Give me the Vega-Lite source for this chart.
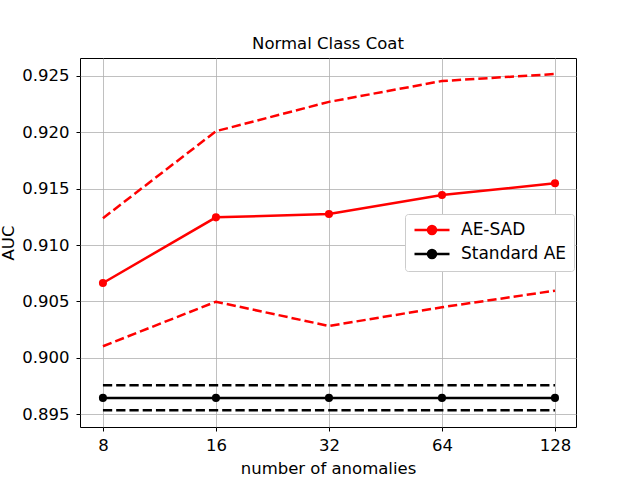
{
  "$schema": "https://vega.github.io/schema/vega-lite/v6.json",
  "width": 496,
  "height": 369,
  "autosize": {"type": "none"},
  "padding": {"left": 80, "top": 58, "right": 64, "bottom": 53},
  "background": "white",
  "config": {
    "font": "DejaVu Sans",
    "view": {"stroke": "black", "strokeWidth": 1},
    "axis": {
      "grid": true,
      "gridColor": "#b0b0b0",
      "gridWidth": 0.8,
      "domain": false,
      "tickColor": "black",
      "tickSize": 4,
      "tickWidth": 1,
      "labelFont": "DejaVu Sans",
      "labelFontSize": 16.5,
      "labelColor": "black",
      "titleFont": "DejaVu Sans",
      "titleFontSize": 16.5,
      "titleFontWeight": "normal",
      "titleColor": "black"
    }
  },
  "title": {
    "text": "Normal Class Coat",
    "font": "DejaVu Sans",
    "fontSize": 16.5,
    "fontWeight": "normal",
    "color": "black",
    "baseline": "alphabetic",
    "offset": -7
  },
  "data": {
    "values": [
      {"n": 8, "series": "AE-SAD", "stat": "mean", "auc": 0.90664},
      {"n": 16, "series": "AE-SAD", "stat": "mean", "auc": 0.91246},
      {"n": 32, "series": "AE-SAD", "stat": "mean", "auc": 0.91276},
      {"n": 64, "series": "AE-SAD", "stat": "mean", "auc": 0.91444},
      {"n": 128, "series": "AE-SAD", "stat": "mean", "auc": 0.91548},
      {"n": 8, "series": "AE-SAD", "stat": "upper", "auc": 0.91238},
      {"n": 16, "series": "AE-SAD", "stat": "upper", "auc": 0.9201},
      {"n": 32, "series": "AE-SAD", "stat": "upper", "auc": 0.9227},
      {"n": 64, "series": "AE-SAD", "stat": "upper", "auc": 0.92455},
      {"n": 128, "series": "AE-SAD", "stat": "upper", "auc": 0.92517},
      {"n": 8, "series": "AE-SAD", "stat": "lower", "auc": 0.90103},
      {"n": 16, "series": "AE-SAD", "stat": "lower", "auc": 0.90498},
      {"n": 32, "series": "AE-SAD", "stat": "lower", "auc": 0.90283},
      {"n": 64, "series": "AE-SAD", "stat": "lower", "auc": 0.90449},
      {"n": 128, "series": "AE-SAD", "stat": "lower", "auc": 0.90596},
      {"n": 8, "series": "Standard AE", "stat": "mean", "auc": 0.89645},
      {"n": 16, "series": "Standard AE", "stat": "mean", "auc": 0.89645},
      {"n": 32, "series": "Standard AE", "stat": "mean", "auc": 0.89645},
      {"n": 64, "series": "Standard AE", "stat": "mean", "auc": 0.89645},
      {"n": 128, "series": "Standard AE", "stat": "mean", "auc": 0.89645},
      {"n": 8, "series": "Standard AE", "stat": "upper", "auc": 0.89757},
      {"n": 16, "series": "Standard AE", "stat": "upper", "auc": 0.89757},
      {"n": 32, "series": "Standard AE", "stat": "upper", "auc": 0.89757},
      {"n": 64, "series": "Standard AE", "stat": "upper", "auc": 0.89757},
      {"n": 128, "series": "Standard AE", "stat": "upper", "auc": 0.89757},
      {"n": 8, "series": "Standard AE", "stat": "lower", "auc": 0.89535},
      {"n": 16, "series": "Standard AE", "stat": "lower", "auc": 0.89535},
      {"n": 32, "series": "Standard AE", "stat": "lower", "auc": 0.89535},
      {"n": 64, "series": "Standard AE", "stat": "lower", "auc": 0.89535},
      {"n": 128, "series": "Standard AE", "stat": "lower", "auc": 0.89535}
    ]
  },
  "encoding": {
    "x": {
      "field": "n",
      "type": "quantitative",
      "scale": {"type": "log", "base": 2, "domain": [6.95, 145.6], "nice": false},
      "axis": {
        "values": [8, 16, 32, 64, 128],
        "format": "d",
        "title": "number of anomalies",
        "labelPadding": 6,
        "titlePadding": 7
      }
    },
    "y": {
      "field": "auc",
      "type": "quantitative",
      "scale": {"domain": [0.89387, 0.92659], "nice": false, "zero": false},
      "axis": {
        "values": [0.895, 0.9, 0.905, 0.91, 0.915, 0.92, 0.925],
        "format": ".3f",
        "title": "AUC",
        "labelPadding": 7,
        "titlePadding": 5
      }
    },
    "color": {
      "field": "series",
      "type": "nominal",
      "scale": {"domain": ["AE-SAD", "Standard AE"], "range": ["red", "black"]},
      "legend": {
        "title": null,
        "orient": "none",
        "legendX": 325,
        "legendY": 156,
        "padding": 7.5,
        "fillColor": "white",
        "strokeColor": "#cccccc",
        "cornerRadius": 3,
        "labelFont": "DejaVu Sans",
        "labelFontSize": 17,
        "labelColor": "black",
        "labelOffset": 31.5,
        "rowPadding": 5,
        "symbolSize": 100,
        "symbolStrokeWidth": 2.5,
        "symbolType": "M-1.3,0H5.7M3.0,0A0.8,0.8 0 1,1 1.4,0A0.8,0.8 0 1,1 3.0,0Z",
        "encode": {
          "symbols": {
            "update": {
              "fill": {"scale": "color", "field": "value"},
              "stroke": {"scale": "color", "field": "value"},
              "strokeWidth": {"value": 2.5},
              "opacity": {"value": 1}
            }
          }
        }
      }
    }
  },
  "layer": [
    {
      "transform": [{"filter": "datum.stat != 'mean'"}],
      "mark": {"type": "line", "strokeWidth": 2.5, "strokeDash": [9.25, 4]},
      "encoding": {
        "detail": {"field": "stat"}
      }
    },
    {
      "transform": [{"filter": "datum.stat == 'mean'"}],
      "mark": {"type": "line", "strokeWidth": 2.5}
    },
    {
      "transform": [{"filter": "datum.stat == 'mean'"}],
      "mark": {"type": "point", "filled": true, "size": 65, "opacity": 1}
    }
  ]
}
